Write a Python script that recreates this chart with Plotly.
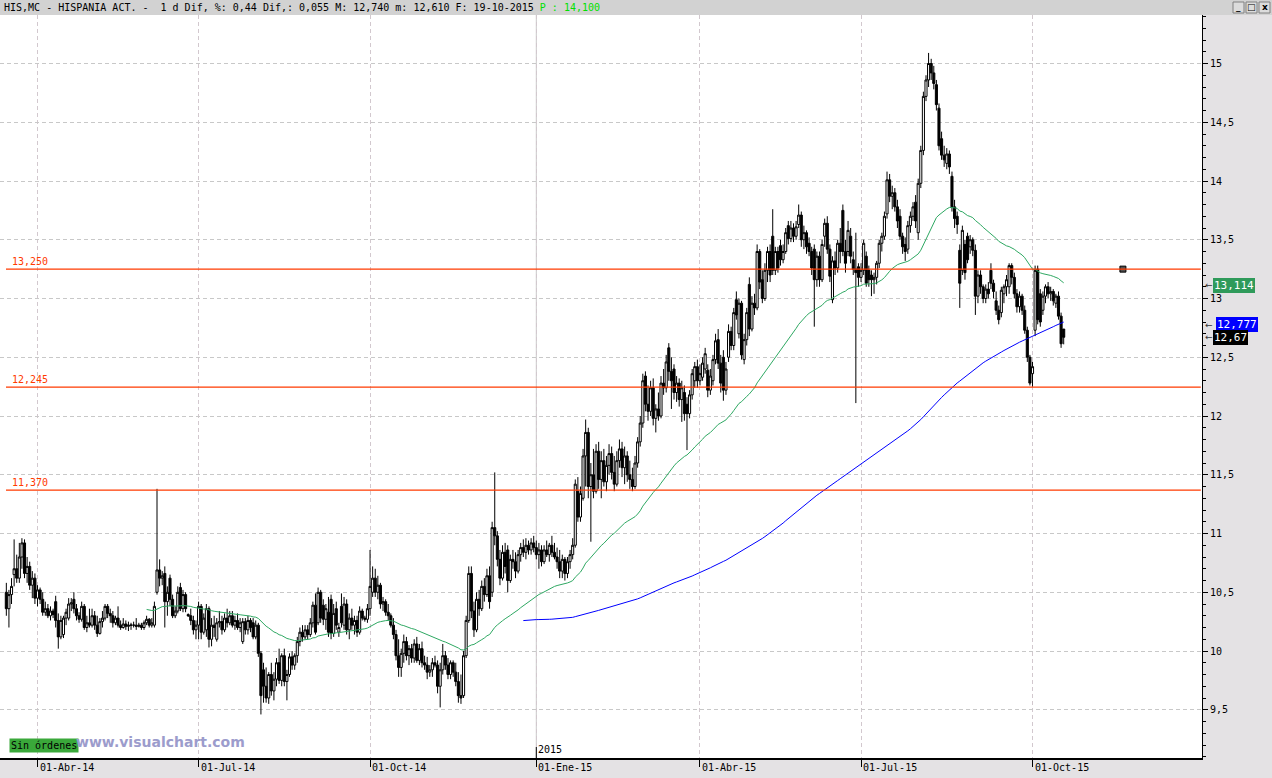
import plotly.graph_objects as go

# ---------------- data (daily OHLC, HIS.MC, 14-Mar-2014 .. 19-Oct-2015) ----------------
opens = [
    10.50, 10.36, 10.48, 10.65, 10.70, 10.62, 10.80, 10.92, 10.66, 10.72,
    10.56, 10.62, 10.45, 10.52, 10.44, 10.33, 10.36, 10.30, 10.34, 10.42,
    10.26, 10.12, 10.14, 10.28, 10.28, 10.40, 10.44, 10.36, 10.30, 10.27,
    10.38, 10.20, 10.24, 10.22, 10.30, 10.22, 10.15, 10.25, 10.28, 10.38,
    10.32, 10.30, 10.24, 10.28, 10.22, 10.20, 10.23, 10.21, 10.22, 10.22,
    10.22, 10.21, 10.22, 10.20, 10.24, 10.27, 10.22, 10.22, 10.50, 10.69,
    10.62, 10.66, 10.42, 10.62, 10.44, 10.30, 10.34, 10.54, 10.36, 10.48,
    10.31, 10.30, 10.26, 10.18, 10.22, 10.38, 10.16, 10.18, 10.36, 10.10,
    10.22, 10.10, 10.24, 10.25, 10.18, 10.28, 10.24, 10.30, 10.22, 10.26,
    10.20, 10.08, 10.25, 10.18, 10.26, 10.24, 10.12, 10.22, 9.98, 9.84,
    9.70, 9.60, 9.80, 9.66, 9.76, 9.90, 9.75, 9.96, 9.74, 9.80,
    9.95, 9.88, 9.96, 10.08, 10.16, 10.12, 10.18, 10.14, 10.24, 10.39,
    10.24, 10.50, 10.39, 10.27, 10.33, 10.44, 10.15, 10.36, 10.16, 10.38,
    10.22, 10.40, 10.18, 10.28, 10.22, 10.26, 10.16, 10.34, 10.28, 10.27,
    10.36, 10.50, 10.62, 10.50, 10.56, 10.40, 10.42, 10.33, 10.30, 10.22,
    10.14, 9.96, 9.86, 9.98, 10.08, 9.96, 10.02, 9.94, 10.06, 9.92,
    10.02, 9.90, 9.88, 9.82, 9.84, 9.90, 9.88, 9.70, 9.84, 9.96,
    9.88, 9.80, 9.90, 9.82, 9.74, 9.62, 9.62, 9.96, 10.26, 10.66,
    10.34, 10.18, 10.44, 10.36, 10.55, 10.48, 10.64, 10.50, 11.05, 10.98,
    10.78, 10.62, 10.84, 10.86, 10.60, 10.78, 10.76, 10.68, 10.82, 10.88,
    10.84, 10.90, 10.86, 10.92, 10.88, 10.82, 10.86, 10.76, 10.86, 10.82,
    10.90, 10.84, 10.80, 10.76, 10.68, 10.78, 10.66, 10.76, 10.82, 10.90,
    11.36, 11.14, 11.30, 11.66, 11.86, 11.40, 11.50, 11.36, 11.70, 11.46,
    11.62, 11.44, 11.58, 11.68, 11.52, 11.42, 11.62, 11.72, 11.56, 11.66,
    11.50, 11.46, 11.40, 11.60, 11.78, 11.94, 12.34, 12.10, 12.04, 12.24,
    11.98, 12.06, 12.00, 12.28, 12.24, 12.58, 12.38, 12.40, 12.20, 12.28,
    12.14, 12.20, 12.10, 12.02, 12.18, 12.30, 12.42, 12.30, 12.33, 12.40,
    12.39, 12.22, 12.30, 12.48, 12.65, 12.45, 12.50, 12.22, 12.50, 12.72,
    12.60, 12.99, 12.70, 12.96, 12.48, 12.65, 13.12, 12.74, 12.96, 12.92,
    13.40, 13.16, 13.00, 13.24, 13.40, 13.53, 13.24, 13.40, 13.45, 13.33,
    13.40, 13.62, 13.51, 13.60, 13.53, 13.63, 13.71, 13.50, 13.56, 13.47,
    13.40, 13.42, 13.16, 13.36, 13.16, 13.53, 13.64, 13.42, 12.99, 13.32,
    13.26, 13.47, 13.75, 13.40, 13.40, 13.53, 13.33, 13.25, 13.27, 13.18,
    13.24, 13.36, 13.24, 13.20, 13.16, 13.18, 13.30, 13.47, 13.53, 13.72,
    14.01, 13.87, 13.90, 13.78, 13.70, 13.53, 13.46, 13.42, 13.62, 13.70,
    13.82, 13.56, 13.98, 14.26, 14.72, 14.86, 15.00, 14.92, 14.82, 14.62,
    14.36, 14.22, 14.15, 14.23, 14.04, 13.78, 13.70, 13.41, 13.24, 13.46,
    13.53, 13.44, 13.50, 13.41, 13.02, 13.20, 13.10, 13.00, 13.08, 13.24,
    13.13, 12.98, 12.90, 12.88, 13.04, 13.10, 13.10, 13.28, 13.18, 13.04,
    12.93, 13.02, 12.90, 12.73, 12.50, 12.36, 12.73, 13.25, 13.04, 12.90,
    13.02, 13.10, 13.04, 13.06, 12.96, 13.02, 12.85, 12.74,
]
highs = [
    10.58, 10.52, 10.62, 10.95, 10.82, 10.92, 10.96, 10.95, 10.80, 10.76,
    10.68, 10.66, 10.56, 10.54, 10.50, 10.42, 10.40, 10.38, 10.36, 10.47,
    10.32, 10.30, 10.30, 10.36, 10.45, 10.45, 10.50, 10.40, 10.33, 10.42,
    10.40, 10.30, 10.36, 10.36, 10.34, 10.30, 10.28, 10.34, 10.40, 10.40,
    10.36, 10.34, 10.30, 10.38, 10.26, 10.28, 10.26, 10.25, 10.24, 10.25,
    10.28, 10.24, 10.24, 10.26, 10.30, 10.28, 10.28, 10.42, 11.38, 10.78,
    10.68, 10.72, 10.55, 10.65, 10.48, 10.38, 10.55, 10.58, 10.52, 10.50,
    10.32, 10.36, 10.30, 10.26, 10.42, 10.40, 10.32, 10.40, 10.38, 10.28,
    10.30, 10.28, 10.34, 10.30, 10.32, 10.36, 10.34, 10.34, 10.30, 10.32,
    10.28, 10.28, 10.28, 10.30, 10.28, 10.28, 10.26, 10.24, 10.00, 9.90,
    9.86, 9.82, 9.90, 9.82, 9.94, 10.02, 9.98, 10.02, 9.84, 9.98,
    10.00, 9.98, 10.12, 10.20, 10.22, 10.22, 10.22, 10.28, 10.42, 10.49,
    10.54, 10.52, 10.44, 10.40, 10.46, 10.48, 10.40, 10.42, 10.24, 10.49,
    10.46, 10.44, 10.32, 10.36, 10.30, 10.30, 10.38, 10.36, 10.30, 10.40,
    10.86, 10.72, 10.70, 10.64, 10.58, 10.46, 10.44, 10.40, 10.32, 10.28,
    10.18, 10.10, 10.02, 10.14, 10.12, 10.05, 10.06, 10.10, 10.12, 10.06,
    10.08, 9.96, 9.95, 9.88, 9.94, 9.96, 9.92, 9.90, 10.06, 10.00,
    9.94, 9.92, 9.92, 9.90, 9.82, 9.80, 10.00, 10.30, 10.72, 10.72,
    10.42, 10.50, 10.52, 10.60, 10.62, 10.70, 10.72, 11.10, 11.52, 11.02,
    10.86, 10.90, 10.92, 10.90, 10.82, 10.86, 10.84, 10.86, 10.92, 10.95,
    10.96, 10.94, 10.96, 10.98, 10.94, 10.92, 10.90, 10.90, 10.94, 10.92,
    10.98, 10.92, 10.88, 10.86, 10.82, 10.80, 10.80, 10.86, 10.96, 11.46,
    11.48, 11.40, 11.72, 11.97, 11.90, 11.60, 11.72, 11.76, 11.78, 11.70,
    11.72, 11.66, 11.76, 11.74, 11.66, 11.70, 11.80, 11.78, 11.74, 11.70,
    11.62, 11.56, 11.66, 11.82, 12.00, 12.36, 12.38, 12.26, 12.30, 12.32,
    12.10, 12.20, 12.34, 12.40, 12.52, 12.62, 12.50, 12.44, 12.34, 12.32,
    12.30, 12.26, 12.16, 12.22, 12.40, 12.46, 12.48, 12.44, 12.50, 12.58,
    12.44, 12.40, 12.52, 12.70, 12.74, 12.52, 12.56, 12.46, 12.78, 12.76,
    12.92, 13.06, 13.00, 12.98, 12.70, 12.92, 13.18, 13.02, 13.04, 13.46,
    13.42, 13.24, 13.30, 13.44, 13.46, 13.76, 13.44, 13.44, 13.50, 13.46,
    13.60, 13.66, 13.66, 13.64, 13.66, 13.80, 13.74, 13.62, 13.58, 13.52,
    13.44, 13.46, 13.40, 13.40, 13.50, 13.68, 13.70, 13.46, 13.36, 13.40,
    13.50, 13.60, 13.80, 13.50, 13.66, 13.60, 13.40, 13.56, 13.30, 13.30,
    13.50, 13.40, 13.28, 13.24, 13.22, 13.32, 13.50, 13.56, 13.74, 14.08,
    14.06, 13.96, 13.94, 13.84, 13.76, 13.56, 13.52, 13.66, 13.74, 13.82,
    13.88, 14.02, 14.30, 14.76, 14.90, 15.09, 15.04, 14.98, 14.86, 14.66,
    14.42, 14.30, 14.28, 14.26, 14.08, 13.84, 13.74, 13.46, 13.62, 13.50,
    13.56, 13.54, 13.52, 13.46, 13.24, 13.24, 13.12, 13.12, 13.14, 13.30,
    13.16, 13.06, 12.94, 13.10, 13.12, 13.20, 13.30, 13.30, 13.22, 13.08,
    13.06, 13.04, 12.94, 12.76, 12.52, 12.46, 13.28, 13.28, 13.08, 13.06,
    13.12, 13.14, 13.10, 13.08, 13.04, 13.06, 12.88, 12.74,
]
lows = [
    10.30, 10.20, 10.40, 10.55, 10.58, 10.58, 10.70, 10.62, 10.58, 10.52,
    10.45, 10.40, 10.38, 10.40, 10.30, 10.30, 10.28, 10.26, 10.28, 10.20,
    10.02, 10.10, 10.11, 10.22, 10.26, 10.34, 10.32, 10.26, 10.24, 10.25,
    10.18, 10.16, 10.20, 10.20, 10.18, 10.12, 10.14, 10.20, 10.26, 10.28,
    10.24, 10.20, 10.22, 10.20, 10.18, 10.19, 10.18, 10.17, 10.18, 10.20,
    10.18, 10.20, 10.18, 10.18, 10.22, 10.20, 10.20, 10.20, 10.48, 10.55,
    10.56, 10.20, 10.30, 10.38, 10.28, 10.28, 10.32, 10.34, 10.33, 10.33,
    10.29, 10.22, 10.14, 10.10, 10.10, 10.10, 10.14, 10.12, 10.03, 10.04,
    10.12, 10.08, 10.20, 10.14, 10.16, 10.20, 10.22, 10.20, 10.18, 10.18,
    10.16, 10.06, 10.14, 10.14, 10.16, 10.10, 10.10, 9.95, 9.46, 9.56,
    9.56, 9.55, 9.62, 9.58, 9.70, 9.72, 9.70, 9.70, 9.58, 9.78,
    9.84, 9.84, 9.90, 10.04, 10.08, 10.10, 10.10, 10.12, 10.20, 10.14,
    10.22, 10.24, 10.22, 10.18, 10.12, 10.10, 10.12, 10.18, 10.12, 10.20,
    10.18, 10.14, 10.10, 10.18, 10.14, 10.12, 10.14, 10.26, 10.25, 10.24,
    10.30, 10.46, 10.46, 10.44, 10.36, 10.34, 10.30, 10.26, 10.20, 10.10,
    9.92, 9.78, 9.78, 9.90, 9.92, 9.88, 9.90, 9.90, 9.90, 9.88,
    9.86, 9.84, 9.76, 9.78, 9.78, 9.86, 9.64, 9.52, 9.80, 9.84,
    9.76, 9.76, 9.78, 9.70, 9.56, 9.55, 9.60, 9.94, 10.24, 10.28,
    10.12, 10.16, 10.30, 10.34, 10.42, 10.46, 10.36, 10.46, 10.90, 10.72,
    10.56, 10.60, 10.66, 10.50, 10.58, 10.70, 10.62, 10.66, 10.76, 10.80,
    10.78, 10.82, 10.82, 10.84, 10.78, 10.70, 10.72, 10.74, 10.80, 10.76,
    10.80, 10.78, 10.70, 10.62, 10.62, 10.60, 10.62, 10.70, 10.78, 10.88,
    11.10, 11.10, 11.28, 11.40, 11.30, 10.93, 11.30, 11.34, 11.38, 11.30,
    11.40, 11.36, 11.50, 11.46, 11.36, 11.40, 11.56, 11.48, 11.42, 11.44,
    11.38, 11.36, 11.38, 11.56, 11.74, 11.90, 12.04, 11.96, 12.00, 11.92,
    11.86, 11.96, 11.98, 12.18, 12.20, 12.30, 12.06, 12.14, 12.12, 12.08,
    11.95, 11.96, 11.71, 11.98, 12.14, 12.24, 12.24, 12.26, 12.30, 12.36,
    12.16, 12.18, 12.26, 12.44, 12.40, 12.20, 12.13, 12.18, 12.46, 12.56,
    12.56, 12.82, 12.66, 12.48, 12.44, 12.60, 12.68, 12.72, 12.86, 12.90,
    13.08, 12.96, 12.98, 13.14, 13.14, 13.20, 13.20, 13.22, 13.28, 13.30,
    13.38, 13.46, 13.48, 13.48, 13.50, 13.60, 13.44, 13.42, 13.38, 13.36,
    13.20, 12.76, 13.10, 13.10, 13.14, 13.44, 13.38, 13.14, 12.96, 13.20,
    13.22, 13.30, 13.36, 13.22, 13.36, 13.30, 13.20, 12.11, 13.10, 13.14,
    13.20, 13.10, 13.10, 13.02, 13.04, 13.12, 13.26, 13.40, 13.50, 13.68,
    13.82, 13.76, 13.74, 13.60, 13.50, 13.38, 13.32, 13.38, 13.56, 13.66,
    13.60, 13.50, 13.94, 14.22, 14.68, 14.80, 14.86, 14.78, 14.60, 14.26,
    14.18, 14.12, 14.10, 14.06, 13.74, 13.60, 13.55, 12.92, 13.20, 13.16,
    13.30, 13.38, 13.36, 12.86, 12.96, 13.04, 12.96, 12.96, 13.00, 13.08,
    13.00, 12.86, 12.78, 12.84, 12.96, 13.02, 13.04, 13.12, 13.00, 12.88,
    12.88, 12.86, 12.70, 12.46, 12.26, 12.25, 12.68, 12.78, 12.76, 12.86,
    12.96, 13.00, 12.98, 12.94, 12.92, 12.82, 12.58, 12.61,
]
closes = [
    10.36, 10.48, 10.55, 10.70, 10.62, 10.80, 10.92, 10.66, 10.72, 10.56,
    10.62, 10.45, 10.52, 10.44, 10.33, 10.36, 10.30, 10.34, 10.31, 10.26,
    10.12, 10.26, 10.28, 10.33, 10.40, 10.41, 10.36, 10.30, 10.27, 10.38,
    10.20, 10.24, 10.22, 10.30, 10.22, 10.15, 10.25, 10.28, 10.38, 10.32,
    10.30, 10.24, 10.28, 10.22, 10.20, 10.23, 10.21, 10.22, 10.22, 10.22,
    10.21, 10.22, 10.20, 10.24, 10.27, 10.22, 10.24, 10.38, 10.69, 10.62,
    10.64, 10.42, 10.50, 10.44, 10.30, 10.34, 10.50, 10.36, 10.48, 10.36,
    10.30, 10.26, 10.18, 10.22, 10.38, 10.16, 10.28, 10.36, 10.10, 10.22,
    10.20, 10.24, 10.25, 10.18, 10.28, 10.24, 10.30, 10.22, 10.26, 10.20,
    10.24, 10.25, 10.18, 10.26, 10.20, 10.12, 10.22, 9.98, 9.62, 9.70,
    9.60, 9.80, 9.66, 9.76, 9.90, 9.75, 9.96, 9.74, 9.80, 9.95,
    9.88, 9.96, 10.08, 10.16, 10.12, 10.18, 10.14, 10.24, 10.39, 10.16,
    10.50, 10.28, 10.27, 10.36, 10.16, 10.15, 10.32, 10.22, 10.20, 10.24,
    10.40, 10.18, 10.28, 10.22, 10.26, 10.16, 10.34, 10.28, 10.27, 10.36,
    10.55, 10.62, 10.50, 10.56, 10.40, 10.42, 10.33, 10.30, 10.22, 10.14,
    9.96, 9.86, 9.98, 10.08, 9.96, 10.02, 9.94, 10.06, 9.92, 10.02,
    9.90, 9.88, 9.82, 9.84, 9.90, 9.88, 9.70, 9.84, 9.96, 9.88,
    9.80, 9.90, 9.82, 9.74, 9.62, 9.60, 9.96, 10.26, 10.66, 10.34,
    10.18, 10.44, 10.36, 10.55, 10.48, 10.64, 10.42, 11.05, 10.98, 10.78,
    10.62, 10.84, 10.72, 10.60, 10.78, 10.76, 10.68, 10.82, 10.88, 10.84,
    10.90, 10.86, 10.92, 10.88, 10.82, 10.86, 10.76, 10.86, 10.82, 10.90,
    10.84, 10.80, 10.76, 10.68, 10.78, 10.66, 10.76, 10.82, 10.90, 11.42,
    11.14, 11.34, 11.66, 11.86, 11.40, 11.50, 11.36, 11.70, 11.46, 11.62,
    11.44, 11.58, 11.68, 11.52, 11.42, 11.62, 11.72, 11.56, 11.66, 11.50,
    11.46, 11.40, 11.60, 11.78, 11.94, 12.30, 12.10, 12.04, 12.24, 11.98,
    12.06, 12.00, 12.28, 12.24, 12.46, 12.38, 12.30, 12.20, 12.28, 12.14,
    12.24, 12.02, 12.02, 12.18, 12.36, 12.42, 12.30, 12.36, 12.45, 12.53,
    12.22, 12.34, 12.48, 12.64, 12.45, 12.28, 12.22, 12.40, 12.72, 12.60,
    12.88, 12.86, 12.96, 12.52, 12.65, 12.88, 12.74, 12.96, 12.92, 13.40,
    13.14, 13.00, 13.24, 13.40, 13.20, 13.24, 13.40, 13.26, 13.33, 13.40,
    13.56, 13.51, 13.60, 13.53, 13.61, 13.71, 13.50, 13.56, 13.44, 13.40,
    13.26, 13.16, 13.36, 13.16, 13.46, 13.64, 13.42, 13.19, 13.32, 13.26,
    13.47, 13.40, 13.40, 13.30, 13.58, 13.36, 13.25, 13.22, 13.18, 13.24,
    13.47, 13.13, 13.16, 13.16, 13.18, 13.30, 13.47, 13.53, 13.70, 14.01,
    13.87, 13.90, 13.78, 13.66, 13.53, 13.44, 13.40, 13.62, 13.70, 13.78,
    13.66, 13.98, 14.26, 14.72, 14.86, 15.00, 14.92, 14.83, 14.65, 14.30,
    14.22, 14.18, 14.23, 14.12, 13.78, 13.68, 13.63, 13.13, 13.58, 13.22,
    13.33, 13.50, 13.41, 13.02, 13.20, 13.10, 13.00, 13.08, 13.04, 13.13,
    13.06, 12.90, 12.82, 13.07, 13.10, 13.16, 13.28, 13.18, 13.04, 12.93,
    13.02, 12.90, 12.73, 12.50, 12.28, 12.42, 13.24, 12.82, 12.80, 13.02,
    13.10, 13.04, 13.06, 12.98, 13.02, 12.85, 12.615, 12.67,
]

# x-axis: trading-day index of each quarter start
tick_idx = [12, 74, 140, 204, 267, 329, 395]
tick_text = ["01-Abr-14", "01-Jul-14", "01-Oct-14", "01-Ene-15", "01-Abr-15", "01-Jul-15", "01-Oct-15"]
year_idx = 204
year_text = "2015"

ytick_vals = [9.5, 10, 10.5, 11, 11.5, 12, 12.5, 13, 13.5, 14, 14.5, 15]
ytick_text = ["9,5", "10", "10,5", "11", "11,5", "12", "12,5", "13", "13,5", "14", "14,5", "15"]

levels = [13.25, 12.245, 11.37]
level_text = ["13,250", "12,245", "11,370"]

ema_period = 55
sma_period = 200

last_values = [13.114, 12.777, 12.67]
last_text = ["13,114", "12,777", "12,67"]

title_text = "HIS,MC - HISPANIA ACT. -  1 d Dif, %: 0,44 Dif,: 0,055 M: 12,740 m: 12,610 F: 19-10-2015"
title_price = "P : 14,100"
status_text = "Sin órdenes"
watermark = "www.visualchart.com"

# ---------------- indicators ----------------
n = len(closes)
xs = list(range(n))
ema = [None] * n
alpha = 2.0 / (ema_period + 1)
ema[ema_period - 1] = sum(closes[:ema_period]) / ema_period
for i in range(ema_period, n):
    ema[i] = ema[i - 1] + alpha * (closes[i] - ema[i - 1])
sma = [None] * n
for i in range(sma_period - 1, n):
    sma[i] = sum(closes[i - sma_period + 1:i + 1]) / sma_period

# ---------------- figure ----------------
MONO = "DejaVu Sans Mono"
W, H = 1272, 778
L, R, T, B = 0, 70, 15, 20
PW, PH = W - L - R, H - T - B

fig = go.Figure()
fig.add_trace(go.Candlestick(
    x=xs, open=opens, high=highs, low=lows, close=closes,
    increasing=dict(line=dict(color="#000000", width=1), fillcolor="#ffffff"),
    decreasing=dict(line=dict(color="#000000", width=1), fillcolor="#000000"),
    whiskerwidth=0, hoverinfo="skip", showlegend=False))
fig.add_trace(go.Scatter(x=xs, y=ema, mode="lines", line=dict(color="#2ea862", width=1),
                         hoverinfo="skip", showlegend=False, connectgaps=False))
fig.add_trace(go.Scatter(x=xs, y=sma, mode="lines", line=dict(color="#0000ff", width=1),
                         hoverinfo="skip", showlegend=False, connectgaps=False))
# handle marker on the upper level line
fig.add_trace(go.Scatter(x=[429.8], y=[levels[0]], mode="markers",
                         marker=dict(symbol="square", size=6, color="#505050",
                                     line=dict(color="#000000", width=1)),
                         hoverinfo="skip", showlegend=False))

shapes = []
# title bar
shapes.append(dict(type="rect", xref="paper", yref="paper", x0=-0.01, x1=W / PW + 0.01,
                   y0=1, y1=1 + T / PH + 0.01, fillcolor="#d2d2d2", line=dict(width=0), layer="below"))
# solid year separator grid line
shapes.append(dict(type="line", xref="x", yref="paper", x0=year_idx, x1=year_idx, y0=0, y1=1,
                   line=dict(color="#c8c8c8", width=1), layer="below"))
shapes.append(dict(type="line", xref="x", yref="paper", x0=year_idx, x1=year_idx, y0=0, y1=11 / PH,
                   line=dict(color="#000000", width=1)))
# level lines
for lv in levels:
    shapes.append(dict(type="line", xref="paper", yref="y", x0=6 / PW, x1=0.999, y0=lv, y1=lv,
                       line=dict(color="#ff3a00", width=1.2)))
# window buttons
for k in range(3):
    x0 = (1233 + k * 13) / PW
    shapes.append(dict(type="rect", xref="paper", yref="paper", x0=x0, x1=x0 + 11 / PW,
                       y0=1 + 2 / PH, y1=1 + 13 / PH, fillcolor="#dcdcdc",
                       line=dict(color="#808080", width=1)))

ann = []
ann.append(dict(xref="paper", yref="paper", x=2 / PW, y=1 + 7.5 / PH, xanchor="left", yanchor="middle",
                text=title_text + " <span style='color:#00e000'>" + title_price + "</span>",
                showarrow=False, font=dict(family=MONO, size=10, color="#000000")))
for g, k in zip(["_", "□", "x"], range(3)):
    ann.append(dict(xref="paper", yref="paper", x=(1238.5 + k * 13) / PW, y=1 + 7.5 / PH,
                    xanchor="center", yanchor="middle", text="<b>" + g + "</b>", showarrow=False,
                    font=dict(family="DejaVu Sans", size=9, color="#000000")))
for ti, tt in zip(tick_idx, tick_text):
    ann.append(dict(xref="x", yref="paper", x=ti, y=0, xanchor="left", yanchor="top",
                    xshift=0, yshift=-2, text=tt, showarrow=False,
                    font=dict(family=MONO, size=10, color="#000000")))
ann.append(dict(xref="x", yref="paper", x=year_idx, y=0, xanchor="left", yanchor="bottom",
                xshift=0, yshift=1, text=year_text, showarrow=False,
                font=dict(family=MONO, size=10, color="#000000")))
for lv, lt in zip(levels, level_text):
    ann.append(dict(xref="paper", yref="y", x=10 / PW, y=lv, xanchor="left", yanchor="bottom",
                    yshift=0, text=lt, showarrow=False,
                    font=dict(family=MONO, size=10, color="#ff3a00")))
# status box + watermark
ann.append(dict(xref="paper", yref="paper", x=9 / PW, y=13 / PH, xanchor="left", yanchor="middle",
                text=status_text, showarrow=False, bgcolor="#3aa83a", borderpad=1,
                font=dict(family=MONO, size=10, color="#000000")))
ann.append(dict(xref="paper", yref="paper", x=74 / PW, y=16 / PH, xanchor="left", yanchor="middle",
                text="<b>" + watermark + "</b>", showarrow=False,
                font=dict(family="DejaVu Sans", size=14, color="#9c9ccc")))
# last-value boxes on the price scale
box_cols = ["#2f9a5a", "#0000ff", "#000000"]
box_x = [1213, 1216, 1213]
for v, t, c, bx in zip(last_values, last_text, box_cols, box_x):
    ann.append(dict(xref="paper", yref="y", x=1203 / PW, y=v, xanchor="left", yanchor="middle",
                    text="←", showarrow=False, font=dict(family="DejaVu Sans", size=9, color="#333333")))
    ann.append(dict(xref="paper", yref="y", x=bx / PW, y=v, xanchor="left", yanchor="middle",
                    text=t, showarrow=False, bgcolor=c, borderpad=1, bordercolor="#606060",
                    borderwidth=0, font=dict(family=MONO, size=11, color="#ffffff")))

fig.update_layout(
    width=W, height=H, margin=dict(l=L, r=R, t=T, b=B, pad=0),
    paper_bgcolor="#e4e2e4", plot_bgcolor="#ffffff",
    showlegend=False, hovermode=False, boxgap=0.2, boxgroupgap=0,
    shapes=shapes, annotations=ann,
    xaxis=dict(range=[-2.437, 460.24], rangeslider=dict(visible=False), automargin=False,
               tickvals=tick_idx, showticklabels=False, ticks="outside", ticklen=7,
               tickcolor="#000000", tickwidth=1, showgrid=True, gridcolor="#d2c8ce",
               griddash="4px,3px", gridwidth=1, showline=True, linecolor="#000000",
               linewidth=1.5, zeroline=False, fixedrange=True),
    yaxis=dict(side="right", range=[9.0894, 15.4128], tickvals=ytick_vals, ticktext=ytick_text,
               automargin=False,
               ticks="outside", ticklen=5, tickcolor="#000000", showline=True,
               linecolor="#000000", linewidth=1, showgrid=True, gridcolor="#c8c8c8",
               griddash="4px,3px", gridwidth=1, zeroline=False, fixedrange=True,
               tickfont=dict(family=MONO, size=10, color="#000000"),
               minor=dict(tick0=9.0, dtick=0.1, ticks="outside", ticklen=3,
                          tickcolor="#000000", showgrid=False)),
)

fig.write_html("out.html", config={"displayModeBar": False},
               post_script="document.body.style.margin='0px';document.body.style.padding='0px';"
                           "document.body.style.overflow='hidden';")
